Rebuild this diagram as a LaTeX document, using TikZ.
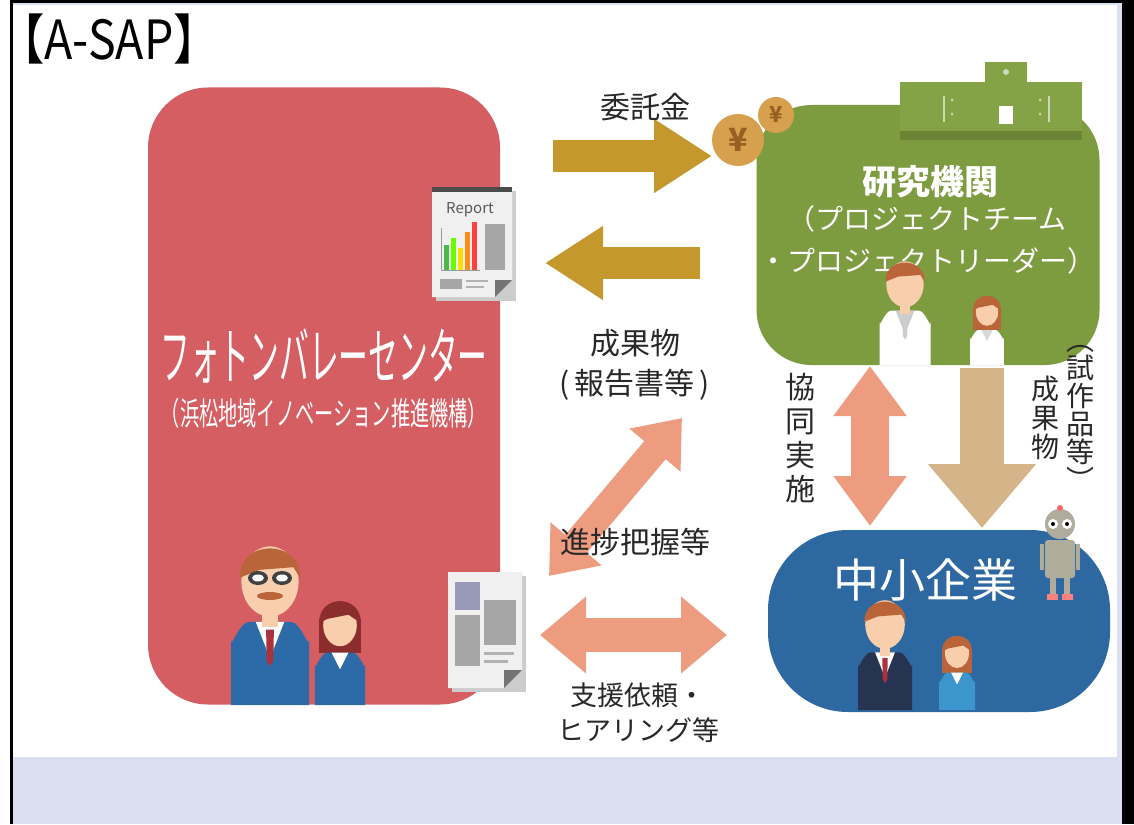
\documentclass[tikz,border=0pt]{standalone}
\usepackage{graphicx}
\usepackage{fontspec}
\setmainfont{Noto Sans CJK JP}
\usetikzlibrary{arrows.meta}

% palette
\definecolor{pvcred}{RGB}{213,94,99}
\definecolor{labgreen}{RGB}{125,155,63}
\definecolor{labgreenlt}{RGB}{132,162,70}
\definecolor{smeblue}{RGB}{46,104,160}
\definecolor{fundgold}{RGB}{196,152,44}
\definecolor{salmon}{RGB}{238,156,128}
\definecolor{beige}{RGB}{214,180,138}
\definecolor{paleblue}{RGB}{218,224,242}
\definecolor{skin}{RGB}{248,206,172}
\definecolor{hairbrown}{RGB}{186,100,58}
\definecolor{hairdark}{RGB}{140,45,45}
\definecolor{suitblue}{RGB}{45,106,168}
\definecolor{navy}{RGB}{38,52,82}
\definecolor{coatblue}{RGB}{60,150,205}
\definecolor{tiered}{RGB}{170,50,60}
\definecolor{coin}{RGB}{214,160,78}
\definecolor{coinmark}{RGB}{150,95,35}
\definecolor{robot}{RGB}{176,172,156}
\definecolor{txt}{RGB}{40,40,40}

\newcommand\jpsize[2]{\fontsize{#1}{#2}\selectfont}

\tikzset{
  orgbox/.style={inner sep=0pt, outer sep=0pt},
  flowtext/.style={text=txt, inner sep=0pt},
  boxtext/.style={text=white, inner sep=0pt},
  goldarrow/.style={draw=fundgold, line width=32pt, -{Triangle[length=58pt,width=70pt]}},
  pinkarrow/.style={draw=salmon, line width=#1},
  % standing figure, origin at the bottom of the body
  pics/staff/.style n args={4}{code={
    \begin{scope}[yscale=-1]
      \fill[#2] (-30,0) -- (-30,50) to[out=90,in=180] (-16,64) -- (16,64) to[out=0,in=90] (30,50) -- (30,0) -- cycle;
      \fill[#3] (-11,64) -- (0,36) -- (11,64) -- cycle;
      \fill[#4] (-3,58) -- (3,58) -- (2.5,34) -- (0,30) -- (-2.5,34) -- cycle;
      \fill[skin] (-6,60) rectangle (6,72);
      \fill[skin] (0,95) ellipse[x radius=22, y radius=27];
      \fill[#1] (-23,98) .. controls (-24,128) and (24,128) .. (23,98) -- (18,106) -- (-8,104) -- cycle;
    \end{scope}
  }},
  pics/lady/.style n args={3}{code={
    \begin{scope}[yscale=-1]
      \fill[#1] (-20,50) rectangle (20,82);
      \fill[#2] (-24,0) -- (-24,38) to[out=90,in=180] (-12,50) -- (12,50) to[out=0,in=90] (24,38) -- (24,0) -- cycle;
      \fill[#3] (-8,50) -- (0,34) -- (8,50) -- cycle;
      \fill[skin] (0,76) ellipse[x radius=16, y radius=20];
      \fill[#1] (-20,78) .. controls (-20,106) and (20,106) .. (20,78) -- (8,86) -- (-12,82) -- cycle;
    \end{scope}
  }},
}

\begin{document}
\begin{tikzpicture}[x=1pt, y=-1pt]
\useasboundingbox (0,0) rectangle (1134,824);

% page frame
\fill[white] (0,0) rectangle (1134,824);
\fill[paleblue] (13,757) rectangle (1122,824);
\fill[paleblue] (1117,3) rectangle (1122,757);
\fill[paleblue] (13,3) rectangle (1122,5);
\fill[black] (10,0) rectangle (13,824);
\fill[black] (10,0) rectangle (1134,3);
\fill[black] (1122,0) rectangle (1134,824);

\node[anchor=west, flowtext, text=black, font=\jpsize{54}{54}] (title) at (-2,39) {\scalebox{0.86}[1]{【A-SAP】}};

% the three organisations
\node[orgbox, fill=pvcred, rounded corners=60pt, minimum width=352pt, minimum height=617pt] (pvc) at (324,396) {};
\node[orgbox, fill=labgreen, rounded corners=55pt, minimum width=343pt, minimum height=260pt] (lab) at (928,235) {};
\node[orgbox, fill=smeblue, rounded corners=80pt, minimum width=342pt, minimum height=182pt] (sme) at (939,621) {};

% building on the lab
\fill[black, opacity=0.15] (900,130) rectangle (1082,140);
\fill[labgreenlt] (900,82) rectangle (1082,131);
\fill[labgreenlt] (985,62) rectangle (1027,84);
\fill[white, opacity=0.6] (1006,72) circle (3);
\foreach \xx in {943,1048} {
  \fill[white, opacity=0.6] (\xx,96) rectangle (\xx+2,122);
}
\foreach \xx in {952,1040} {
  \fill[white, opacity=0.6] (\xx,100) circle (1.5);
  \fill[white, opacity=0.6] (\xx,114) circle (1.5);
}
\fill[white] (999,106) rectangle (1013,124);

% names
\node[boxtext, font=\jpsize{62}{62}] (pvcname) at (324,356) {\scalebox{0.48}[1]{フォトンバレーセンター}};
\node[boxtext, font=\jpsize{32}{32}] (pvcsub) at (324,413) {\scalebox{0.6}[1]{（浜松地域イノベーション推進機構）}};
\node[boxtext, font=\bfseries\jpsize{34}{34}] (labname) at (930,182) {研究機関};
\node[boxtext, font=\jpsize{28}{42}, align=center] (labteam) at (927,240) {（プロジェクトチーム\\・プロジェクトリーダー）};
\node[boxtext, font=\jpsize{46}{46}] (smename) at (925,580) {中小企業};

% people
\pic[scale=1.3] at (270,705) {staff={hairbrown}{suitblue}{white}{tiered}};
\fill[black!75] (258,578) ellipse[x radius=10, y radius=7];
\fill[black!75] (282,578) ellipse[x radius=10, y radius=7];
\fill[white] (258,578) ellipse[x radius=6, y radius=3.5];
\fill[white] (282,578) ellipse[x radius=6, y radius=3.5];
\fill[hairbrown] (270,596) ellipse[x radius=13, y radius=4];
\pic[scale=1.05] at (340,705) {lady={hairdark}{suitblue}{white}};

\pic[scale=0.85] at (905,365) {staff={hairbrown}{white}{black!20}{black!20}};
\pic[scale=0.7] at (987,365) {lady={hairbrown}{white}{black!15}};

\pic[scale=0.9] at (885,710) {staff={hairbrown}{navy}{white}{tiered}};
\pic[scale=0.75] at (957,710) {lady={hairbrown}{coatblue}{white}};

% robot
\fill[robot] (1060,524) circle (15);
\fill[red!60] (1060,508) circle (3);
\fill[white] (1053,524) circle (5);
\fill[white] (1067,524) circle (5);
\fill[black] (1053,524) circle (2);
\fill[black] (1067,524) circle (2);
\fill[robot, rounded corners=3pt] (1045,540) rectangle (1075,578);
\fill[robot] (1040,544) rectangle (1044,570);
\fill[robot] (1076,544) rectangle (1080,570);
\fill[robot] (1050,578) rectangle (1056,595);
\fill[robot] (1064,578) rectangle (1070,595);
\fill[red!50] (1047,594) rectangle (1058,600);
\fill[red!50] (1062,594) rectangle (1073,600);

% report sheet
\fill[black!20] (436,191) rectangle (516,301);
\fill[black!6] (432,187) -- (512,187) -- (512,280) -- (495,297) -- (432,297) -- cycle;
\fill[black!70] (432,187) rectangle (512,192);
\node[text=black!65, inner sep=0pt, font=\jpsize{15}{15}] (reportword) at (470,210) {Report};
\draw[black!40] (441,228) -- (441,270) -- (480,270);
\fill[green!60!black!70] (444,245) rectangle (449,270);
\fill[green!60!yellow] (451,238) rectangle (456,270);
\fill[yellow!80!orange] (458,248) rectangle (463,270);
\fill[orange!90] (465,232) rectangle (470,270);
\fill[red!75] (472,222) rectangle (477,270);
\fill[black!35] (485,224) rectangle (505,270);
\fill[black!35] (440,279) rectangle (462,289);
\fill[black!30] (466,280) rectangle (488,282);
\fill[black!30] (466,286) rectangle (484,288);
\fill[black!55] (495,297) -- (512,280) -- (495,280) -- cycle;

% news sheet
\fill[black!20] (452,576) rectangle (526,692);
\fill[black!6] (448,572) -- (522,572) -- (522,670) -- (504,688) -- (448,688) -- cycle;
\fill[blue!30!black!40] (455,582) rectangle (480,610);
\fill[black!35] (455,615) rectangle (480,666);
\fill[black!35] (484,600) rectangle (516,645);
\fill[black!30] (484,652) rectangle (514,655);
\fill[black!30] (484,660) rectangle (508,663);
\fill[black!55] (504,688) -- (522,670) -- (504,670) -- cycle;

% flows
\coordinate (fundA) at (553,156);
\coordinate (fundB) at (712,156);
\coordinate (repA) at (700,263);
\coordinate (repB) at (545,263);
\coordinate (progA) at (549,576);
\coordinate (progB) at (682,418);
\coordinate (suppA) at (540,635);
\coordinate (suppB) at (727,635);
\coordinate (jointA) at (870,366);
\coordinate (jointB) at (870,526);
\coordinate (protoA) at (982,368);
\coordinate (protoB) at (982,528);

\draw[goldarrow] (fundA) -- (fundB);
\draw[goldarrow] (repA) -- (repB);
\draw[pinkarrow=28pt, {Triangle[length=42pt,width=64pt]}-{Triangle[length=42pt,width=64pt]}] (progA) -- (progB);
\draw[pinkarrow=34pt, {Triangle[length=46pt,width=74pt]}-{Triangle[length=46pt,width=74pt]}] (suppA) -- (suppB);
\draw[pinkarrow=38pt, {Triangle[length=50pt,width=70pt]}-{Triangle[length=50pt,width=70pt]}] (jointA) -- (jointB);
\draw[draw=beige, line width=44pt, -{Triangle[length=64pt,width=104pt]}] (protoA) -- (protoB);

% coins
\fill[coin] (776,115) circle (18);
\node[text=coinmark, inner sep=0pt, font=\bfseries\jpsize{22}{22}] (coinsmall) at (776,115) {¥};
\fill[coin] (738,140) circle (26);
\node[text=coinmark, inner sep=0pt, font=\bfseries\jpsize{32}{32}] (coinbig) at (738,140) {¥};

% captions
\node[flowtext, font=\jpsize{30}{30}] (fundtext) at (645,107) {委託金};
\node[flowtext, font=\jpsize{30}{40}, align=center] (reporttext) at (635,365) {成果物\\(\,報告書等\,)};
\node[flowtext, font=\jpsize{30}{30}] (progresstext) at (635,542) {進捗把握等};
\node[flowtext, font=\jpsize{27}{35}, align=center] (supporttext) at (638,713) {支援依頼・\\ヒアリング等};
\node[flowtext, font=\jpsize{30}{34}, align=center] (jointtext) at (800,438) {協\\同\\実\\施};
\node[flowtext, font=\jpsize{28}{29}, align=center] (prototext) at (1045,418) {成\\果\\物};
\node[flowtext, font=\jpsize{28}{28}, align=center] (protonote) at (1080,418) {︵\\試\\作\\品\\等\\︶};
\end{tikzpicture}
\end{document}
